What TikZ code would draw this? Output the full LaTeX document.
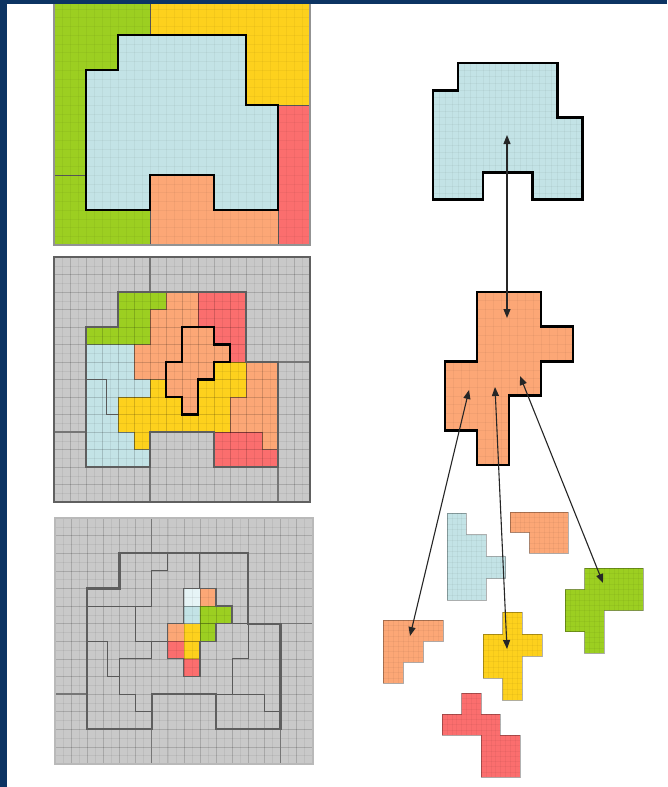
\documentclass[tikz,border=0pt]{standalone}
\usetikzlibrary{arrows.meta}
\definecolor{bbar}{HTML}{0C3463}
\definecolor{cgreen}{HTML}{9CCF21}
\definecolor{cyellow}{HTML}{FDD11D}
\definecolor{cblue}{HTML}{C3E3E6}
\definecolor{cpale}{HTML}{E6F4F6}
\definecolor{corange}{HTML}{FCA776}
\definecolor{cred}{HTML}{FB6E6E}
\definecolor{cgray}{HTML}{C9C9C9}
\definecolor{dgray}{HTML}{5E5E5E}
\newcommand{\texfill}[4]{%
  \begin{scope}
    \clip #4 -- cycle;
    \fill[#1] #4 -- cycle;
    \foreach \k in {0,0.25,...,#2} \draw[tex] (\k,0) -- (\k,#3);
    \foreach \k in {0,0.25,...,#3} \draw[tex] (0,\k) -- (#2,\k);
  \end{scope}}
\def\PGreen{(4,2) -- (7,2) -- (7,3) -- (6,3) -- (6,5) -- (2,5) -- (2,4) -- (4,4)}
\def\POrA{(7,2) -- (9,2) -- (9,4) -- (8,4) -- (8,6) -- (7,6) -- (7,7) -- (5,7) -- (5,5) -- (6,5) -- (6,3) -- (7,3)}
\def\PRedA{(9,2) -- (12,2) -- (12,6) -- (11,6) -- (11,5) -- (10,5) -- (10,4) -- (9,4)}
\def\PCross{(8,4) -- (10,4) -- (10,5) -- (11,5) -- (11,6) -- (10,6) -- (10,7) -- (9,7) -- (9,9) -- (8,9) -- (8,8) -- (7,8) -- (7,6) -- (8,6)}
\def\PYel{(4,8) -- (6,8) -- (6,7) -- (7,7) -- (7,8) -- (8,8) -- (8,9) -- (9,9) -- (9,7) -- (10,7) -- (10,6) -- (12,6) -- (12,8) -- (11,8) -- (11,10) -- (6,10) -- (6,11) -- (5,11) -- (5,10) -- (4,10)}
\def\POrB{(12,6) -- (14,6) -- (14,11) -- (13,11) -- (13,10) -- (11,10) -- (11,8) -- (12,8)}
\def\PRedB{(10,10) -- (13,10) -- (13,11) -- (14,11) -- (14,12) -- (10,12)}
\def\PBlue{(2,5) -- (5,5) -- (5,7) -- (6,7) -- (6,8) -- (4,8) -- (4,10) -- (5,10) -- (5,11) -- (6,11) -- (6,12) -- (2,12)}
\def\PRegion{(4,2) -- (12,2) -- (12,6) -- (14,6) -- (14,12) -- (10,12) -- (10,10) -- (6,10) -- (6,12) -- (2,12) -- (2,4) -- (4,4)}
\def\PUnitCross{(1,0) -- (3,0) -- (3,1) -- (4,1) -- (4,2) -- (3,2) -- (3,3) -- (2,3) -- (2,5) -- (1,5) -- (1,4) -- (0,4) -- (0,2) -- (1,2)}
\def\PCoarse{(2,1) -- (6,1) -- (6,3) -- (7,3) -- (7,6) -- (5,6) -- (5,5) -- (3,5) -- (3,6) -- (1,6) -- (1,2) -- (2,2)}
\tikzset{
  tex/.style={draw=black, opacity=0.04, line width=0.35pt},
  gridA/.style={draw=black, opacity=0.06, line width=0.35pt},
  gridB/.style={draw=black, opacity=0.11, line width=0.6pt},
  lvlone/.style={draw=dgray!85, line width=1.3pt},
  regionline/.style={draw=dgray, line width=2.2pt},
  blackout/.style={draw=black, line width=2.6pt},
  pieceline/.style={draw=gray!70!black, line width=0.9pt},
  subline/.style={draw=black, opacity=0.22, line width=0.7pt},
  fragline/.style={draw=black, opacity=0.3, line width=0.8pt},
  arr/.style={draw=black!85, line width=1.1pt, {Triangle[length=9pt,width=7pt]}-{Triangle[length=9pt,width=7pt]}},
}
\begin{document}
\begin{tikzpicture}[x=1pt,y=-1pt]
\useasboundingbox (0,0) rectangle (667,787);
\fill[white] (0,0) rectangle (667,787);

% ---------- Panel 1 ----------
\begin{scope}[shift={(54,0)}, x=32pt, y=-35pt]
  \fill[cgreen] (0,0) rectangle (3,7);
  \fill[cyellow] (3,0) rectangle (8,3);
  \fill[cred] (7,3) rectangle (8,7);
  \fill[corange] (3,5) rectangle (7,7);
  \draw[pieceline] (3,0) -- (3,7) (0,5) -- (1,5) (3,3) -- (8,3) (7,3) -- (7,7) (3,5) -- (7,5);
  \fill[cblue] \PCoarse -- cycle;
  \foreach \k in {0,0.25,...,8} \draw[tex] (\k,0) -- (\k,7);
  \foreach \k in {0,0.25,...,7} \draw[tex] (0,\k) -- (8,\k);
  \draw[blackout] \PCoarse -- cycle;
  \draw[draw=gray!85, line width=2pt] (0,0) rectangle (8,7);
\end{scope}

% ---------- Panel 2 ----------
\begin{scope}[shift={(54,257)}, x=16pt, y=-17.5pt]
  \fill[cgray] (0,0) rectangle (16,14);
  \fill[cgreen] \PGreen -- cycle;
  \fill[corange] \POrA -- cycle;
  \fill[cred] \PRedA -- cycle;
  \fill[cyellow] \PYel -- cycle;
  \fill[corange] \POrB -- cycle;
  \fill[cred] \PRedB -- cycle;
  \fill[cblue] \PBlue -- cycle;
  \fill[corange] \PCross -- cycle;
  \foreach \k in {0,0.5,...,16} \draw[gridA] (\k,0) -- (\k,14);
  \foreach \k in {0,0.5,...,14} \draw[gridA] (0,\k) -- (16,\k);
  \foreach \k in {1,...,15} \draw[gridB] (\k,0) -- (\k,14);
  \foreach \k in {1,...,13} \draw[gridB] (0,\k) -- (16,\k);
  \foreach \p in {\PGreen,\POrA,\PRedA,\PYel,\POrB,\PRedB,\PBlue} \draw[subline] \p -- cycle;
  \draw[pieceline] (2,7) -- (3.25,7) -- (3.25,9) -- (4,9);
  \draw[lvlone] (6,0) -- (6,2) (14,6) -- (16,6) (0,10) -- (2,10) (6,12) -- (6,14) (14,12) -- (14,14);
  \draw[regionline] \PRegion -- cycle;
  \draw[blackout] \PCross -- cycle;
  \draw[draw=gray!75!black, line width=2pt] (0,0) rectangle (16,14);
\end{scope}

% ---------- Panel 3 ----------
\begin{scope}[shift={(55,518)}, x=16.1pt, y=-17.6pt]
  \fill[cgray] (0,0) rectangle (16,14);
  \fill[cblue] (8,4) rectangle (9,6);
  \fill[cpale] (8,4) rectangle (9,5);
  \fill[corange] (9,4) rectangle (10,5);
  \fill[corange] (7,6) rectangle (8,7);
  \fill[cgreen] (9,5) -- (11,5) -- (11,6) -- (10,6) -- (10,7) -- (9,7) -- cycle;
  \fill[cyellow] (8,6) rectangle (9,8);
  \fill[cred] (7,7) rectangle (8,8);
  \fill[cred] (8,8) rectangle (9,9);
  \foreach \k in {0,0.5,...,16} \draw[gridA] (\k,0) -- (\k,14);
  \foreach \k in {0,0.5,...,14} \draw[gridA] (0,\k) -- (16,\k);
  \foreach \k in {1,...,15} \draw[gridB] (\k,0) -- (\k,14);
  \foreach \k in {1,...,13} \draw[gridB] (0,\k) -- (16,\k);
  \foreach \p in {\PGreen,\POrA,\PRedA,\PYel,\POrB,\PRedB,\PBlue} \draw[pieceline] \p -- cycle;
  \draw[pieceline] (2,7) -- (3.25,7) -- (3.25,9) -- (4,9);
  \draw[subline] (9,4) -- (9,9) (7,7) -- (9,7) (8,5) -- (11,5) (9,6) -- (10,6) (7,6) -- (9,6) (8,8) -- (9,8);
  \draw[lvlone] (6,0) -- (6,2) (14,6) -- (16,6) (0,10) -- (2,10) (6,12) -- (6,14) (14,12) -- (14,14);
  \draw[regionline] \PRegion -- cycle;
  \draw[draw=dgray, line width=1.3pt] \PCross -- cycle;
  \draw[draw=gray!55, line width=2pt] (0,0) rectangle (16,14);
\end{scope}

% ---------- Right: top blue shape ----------
\begin{scope}[shift={(408.1,35.7)}, x=24.9pt, y=-27.3pt]
  \texfill{cblue}{8}{7}{\PCoarse}
  \draw[blackout] \PCoarse -- cycle;
\end{scope}

% ---------- Right: big cross ----------
\begin{scope}[shift={(445,292)}, x=32pt, y=-34.6pt]
  \texfill{corange}{4}{5}{\PUnitCross}
  \draw[blackout, line width=2.8pt] \PUnitCross -- cycle;
\end{scope}

% ---------- Right: fragments ----------
\begin{scope}[shift={(447,513)}, x=19.5pt, y=-21.8pt]
  \def\Fr{(0,0) -- (1,0) -- (1,1) -- (2,1) -- (2,2) -- (3,2) -- (3,3) -- (2,3) -- (2,4) -- (0,4)}
  \texfill{cblue}{3}{4}{\Fr}
  \draw[fragline] \Fr -- cycle;
\end{scope}
\begin{scope}[shift={(510,512)}, x=19.4pt, y=-20.5pt]
  \def\Fr{(0,0) -- (3,0) -- (3,2) -- (1,2) -- (1,1) -- (0,1)}
  \texfill{corange}{3}{2}{\Fr}
  \draw[fragline] \Fr -- cycle;
\end{scope}
\begin{scope}[shift={(565,568)}, x=19.5pt, y=-21.25pt]
  \def\Fr{(1,0) -- (4,0) -- (4,2) -- (2,2) -- (2,4) -- (1,4) -- (1,3) -- (0,3) -- (0,1) -- (1,1)}
  \texfill{cgreen}{4}{4}{\Fr}
  \draw[fragline] \Fr -- cycle;
\end{scope}
\begin{scope}[shift={(383,620)}, x=20pt, y=-21pt]
  \def\Fr{(0,0) -- (3,0) -- (3,1) -- (2,1) -- (2,2) -- (1,2) -- (1,3) -- (0,3)}
  \texfill{corange}{3}{3}{\Fr}
  \draw[fragline] \Fr -- cycle;
\end{scope}
\begin{scope}[shift={(483,612)}, x=19.7pt, y=-22pt]
  \def\Fr{(1,0) -- (2,0) -- (2,1) -- (3,1) -- (3,2) -- (2,2) -- (2,4) -- (1,4) -- (1,3) -- (0,3) -- (0,1) -- (1,1)}
  \texfill{cyellow}{3}{4}{\Fr}
  \draw[fragline] \Fr -- cycle;
\end{scope}
\begin{scope}[shift={(442,693)}, x=19.5pt, y=-21pt]
  \def\Fr{(1,0) -- (2,0) -- (2,1) -- (3,1) -- (3,2) -- (4,2) -- (4,4) -- (2,4) -- (2,2) -- (0,2) -- (0,1) -- (1,1)}
  \texfill{cred}{4}{4}{\Fr}
  \draw[fragline] \Fr -- cycle;
\end{scope}

% ---------- Arrows ----------
\coordinate (aBlue) at (507,135);
\coordinate (aCrossTop) at (507,318);
\coordinate (aCrossL) at (469,390);
\coordinate (aOrangeL) at (410,636);
\coordinate (aCrossM) at (495,387);
\coordinate (aYellow) at (507,649);
\coordinate (aCrossR) at (520,376);
\coordinate (aGreen) at (603,583);
\draw[arr] (aBlue) -- (aCrossTop);
\draw[arr] (aCrossL) -- (aOrangeL);
\draw[arr] (aCrossM) -- (aYellow);
\draw[arr] (aCrossR) -- (aGreen);

% ---------- Frame bars ----------
\fill[bbar] (0,0) rectangle (667,3.5);
\fill[bbar] (0,0) rectangle (6.5,787);
\end{tikzpicture}
\end{document}
